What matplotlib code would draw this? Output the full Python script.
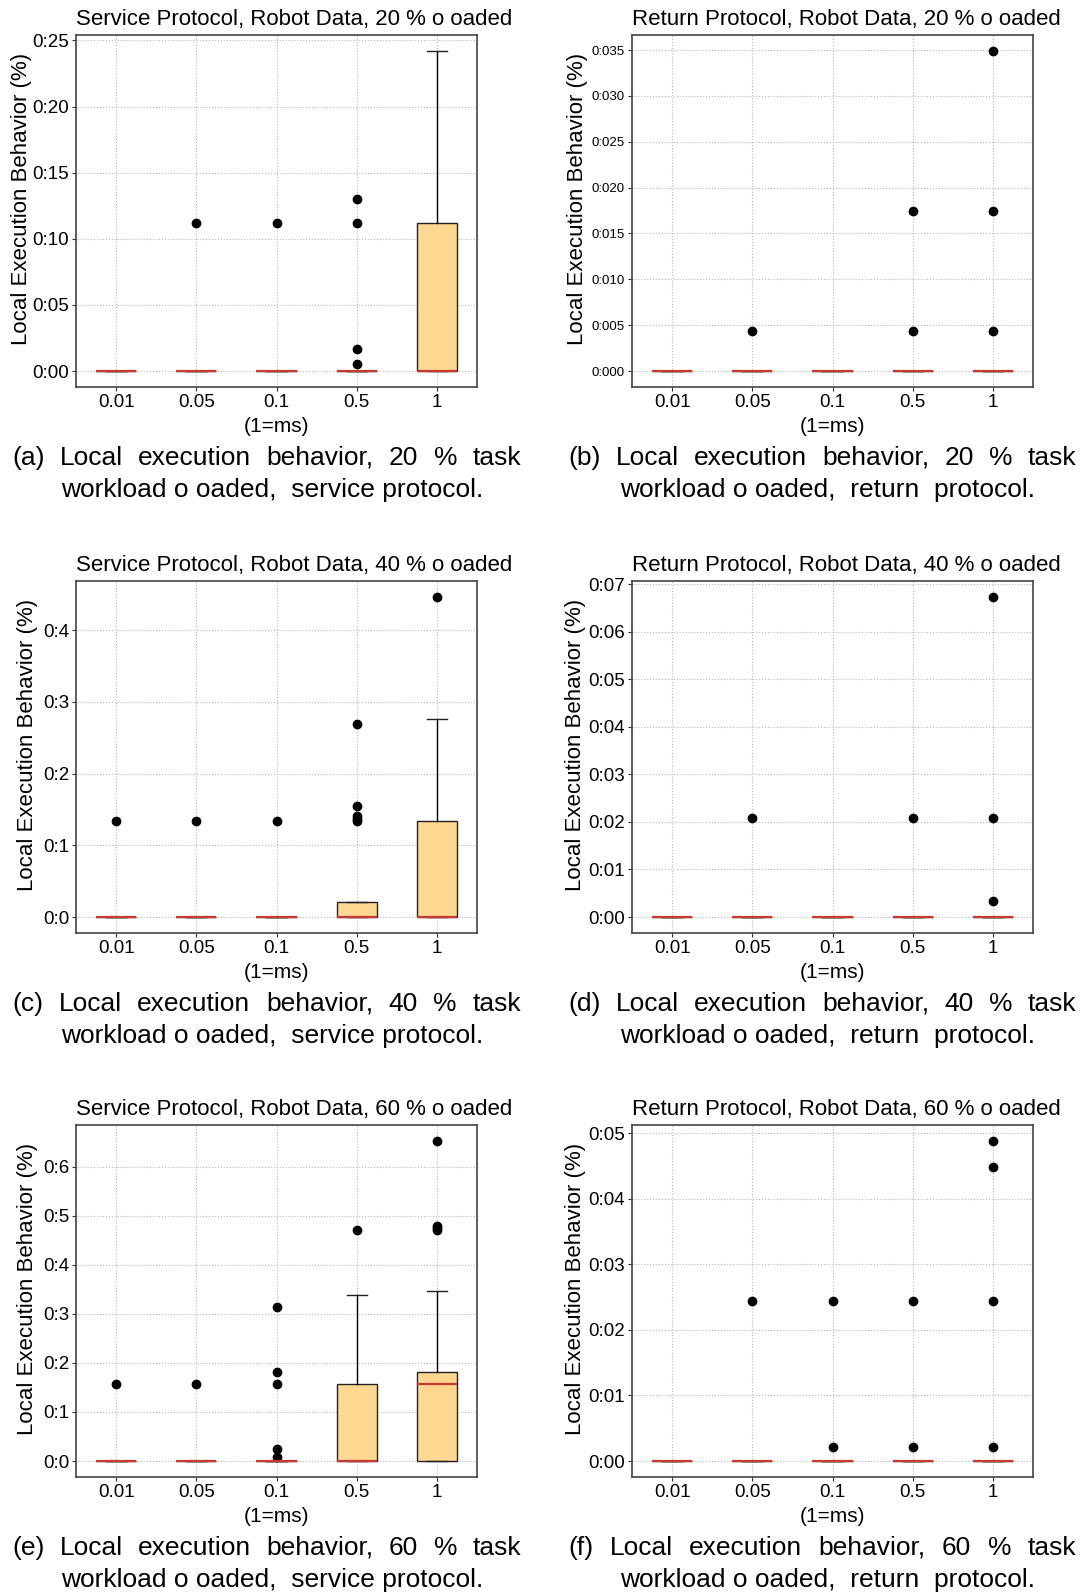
import matplotlib
matplotlib.use("Agg")
import matplotlib.pyplot as plt

plt.rcParams["font.family"] = ["Liberation Sans", "DejaVu Sans"]

FIG_W, FIG_H = 1086, 1594

intervals = ["0.01", "0.05", "0.1", "0.5", "1"]
box_low = [0, 0, 0, 0, 0]  # q1 and lower whisker are zero for every box

# Service protocol, 20 %
svc20_med = [0, 0, 0, 0, 0]
svc20_q3 = [0, 0, 0, 0, 0.112]
svc20_hi = [0, 0, 0, 0, 0.242]
svc20_fliers = [[], [0.112], [0.112], [0.130, 0.112, 0.017, 0.0055], []]

# Return protocol, 20 %
ret20_med = [0, 0, 0, 0, 0]
ret20_q3 = [0, 0, 0, 0, 0]
ret20_hi = [0, 0, 0, 0, 0]
ret20_fliers = [[], [0.0044], [], [0.0175, 0.0044], [0.0349, 0.0175, 0.0044]]

# Service protocol, 40 %
svc40_med = [0, 0, 0, 0, 0]
svc40_q3 = [0, 0, 0, 0.021, 0.134]
svc40_hi = [0, 0, 0, 0.021, 0.276]
svc40_fliers = [[0.134], [0.134], [0.134], [0.269, 0.155, 0.141, 0.137, 0.134], [0.446]]

# Return protocol, 40 %
ret40_med = [0, 0, 0, 0, 0]
ret40_q3 = [0, 0, 0, 0, 0]
ret40_hi = [0, 0, 0, 0, 0]
ret40_fliers = [[], [0.0209], [], [0.0209], [0.0673, 0.0209, 0.0033]]

# Service protocol, 60 %
svc60_med = [0, 0, 0, 0, 0.156]
svc60_q3 = [0, 0, 0, 0.156, 0.181]
svc60_hi = [0, 0, 0, 0.338, 0.3455]
svc60_fliers = [[0.156], [0.156], [0.3135, 0.181, 0.156, 0.0245, 0.0075], [0.4705],
                [0.652, 0.479, 0.474, 0.4705]]

# Return protocol, 60 %
ret60_med = [0, 0, 0, 0, 0]
ret60_q3 = [0, 0, 0, 0, 0]
ret60_hi = [0, 0, 0, 0, 0]
ret60_fliers = [[], [0.0244], [0.0244, 0.0022], [0.0244, 0.0022], [0.0488, 0.0449, 0.0244, 0.0022]]

yticks_svc20 = [0, 0.05, 0.10, 0.15, 0.20, 0.25]
ylabels_svc20 = ["0:00", "0:05", "0:10", "0:15", "0:20", "0:25"]
yticks_ret20 = [0, 0.005, 0.010, 0.015, 0.020, 0.025, 0.030, 0.035]
ylabels_ret20 = ["0:000", "0:005", "0:010", "0:015", "0:020", "0:025", "0:030", "0:035"]
yticks_svc40 = [0, 0.1, 0.2, 0.3, 0.4]
ylabels_svc40 = ["0:0", "0:1", "0:2", "0:3", "0:4"]
yticks_ret40 = [0, 0.01, 0.02, 0.03, 0.04, 0.05, 0.06, 0.07]
ylabels_ret40 = ["0:00", "0:01", "0:02", "0:03", "0:04", "0:05", "0:06", "0:07"]
yticks_svc60 = [0, 0.1, 0.2, 0.3, 0.4, 0.5, 0.6]
ylabels_svc60 = ["0:0", "0:1", "0:2", "0:3", "0:4", "0:5", "0:6"]
yticks_ret60 = [0, 0.01, 0.02, 0.03, 0.04, 0.05]
ylabels_ret60 = ["0:00", "0:01", "0:02", "0:03", "0:04", "0:05"]

titles = [
    "Service Protocol, Robot Data, 20 % o oaded",
    "Return Protocol, Robot Data, 20 % o oaded",
    "Service Protocol, Robot Data, 40 % o oaded",
    "Return Protocol, Robot Data, 40 % o oaded",
    "Service Protocol, Robot Data, 60 % o oaded",
    "Return Protocol, Robot Data, 60 % o oaded",
]
caption_first = [
    ["(a)", "Local", "execution", "behavior,", "20", "%", "task"],
    ["(b)", "Local", "execution", "behavior,", "20", "%", "task"],
    ["(c)", "Local", "execution", "behavior,", "40", "%", "task"],
    ["(d)", "Local", "execution", "behavior,", "40", "%", "task"],
    ["(e)", "Local", "execution", "behavior,", "60", "%", "task"],
    ["(f)", "Local", "execution", "behavior,", "60", "%", "task"],
]
caption_second = [
    "workload o oaded,  service protocol.",
    "workload o oaded,  return  protocol.",
    "workload o oaded,  service protocol.",
    "workload o oaded,  return  protocol.",
    "workload o oaded,  service protocol.",
    "workload o oaded,  return  protocol.",
]

panels = [
    (svc20_med, svc20_q3, svc20_hi, svc20_fliers, yticks_svc20, ylabels_svc20),
    (ret20_med, ret20_q3, ret20_hi, ret20_fliers, yticks_ret20, ylabels_ret20),
    (svc40_med, svc40_q3, svc40_hi, svc40_fliers, yticks_svc40, ylabels_svc40),
    (ret40_med, ret40_q3, ret40_hi, ret40_fliers, yticks_ret40, ylabels_ret40),
    (svc60_med, svc60_q3, svc60_hi, svc60_fliers, yticks_svc60, ylabels_svc60),
    (ret60_med, ret60_q3, ret60_hi, ret60_fliers, yticks_ret60, ylabels_ret60),
]

# layout, in pixels
col_left = [76, 632]
ax_width = 401
row_top = [35, 581, 1125]
ax_height = 352
ytick_size = [13.5, 9.5, 13.5, 13.5, 13.5, 13.5]
ylabel_x = [-0.137, -0.136, -0.121, -0.14, -0.121, -0.14]
cap_x0 = [12, 568]
cap_x1 = [521, 1076]

BOX_FILL = "#fed891"
MEDIAN_RED = "#c9392f"


def fx(px):
    return px / FIG_W


def fy(py):
    return 1 - py / FIG_H


fig = plt.figure(figsize=(FIG_W / 100, FIG_H / 100), dpi=100)
renderer = fig.canvas.get_renderer()

for i, (med, q3, hi, fliers, yticks, ylabels) in enumerate(panels):
    row, col = divmod(i, 2)
    left = col_left[col]
    top = row_top[row]
    ax = fig.add_axes([fx(left), fy(top + ax_height), ax_width / FIG_W, ax_height / FIG_H])

    stats = []
    for k in range(len(intervals)):
        stats.append({
            "med": med[k], "q1": box_low[k], "q3": q3[k],
            "whislo": box_low[k], "whishi": hi[k], "fliers": fliers[k],
        })
    ax.bxp(
        stats, positions=range(1, len(intervals) + 1), widths=0.5, patch_artist=True,
        boxprops=dict(facecolor=BOX_FILL, edgecolor="#222222", linewidth=1.0),
        medianprops=dict(color=MEDIAN_RED, linewidth=1.6, zorder=4),
        whiskerprops=dict(color="black", linewidth=1.0),
        capprops=dict(color="#222222", linewidth=1.0),
        flierprops=dict(marker="o", markerfacecolor="black", markeredgecolor="black",
                        markersize=6),
    )
    ax.set_xlim(0.5, 5.5)
    ax.set_xticks(range(1, len(intervals) + 1))
    ax.set_xticklabels(intervals, fontsize=13.5)
    ax.set_yticks(yticks)
    ax.set_yticklabels(ylabels, fontsize=ytick_size[i])
    ax.tick_params(axis="both", length=3, width=0.8, pad=2, color="#333333")
    ax.grid(True, linestyle=":", color="#b8b8b8", linewidth=0.8)
    ax.set_axisbelow(True)
    for sp in ax.spines.values():
        sp.set_color("#444444")
        sp.set_linewidth(1.2)

    ax.set_xlabel("(1=ms)", fontsize=15, labelpad=4)
    ax.set_ylabel("Local Execution Behavior (%)", fontsize=16)
    ax.yaxis.label.set_verticalalignment("center")
    ax.yaxis.set_label_coords(ylabel_x[i], 0.535)
    ax.set_title(titles[i], loc="left", fontsize=16, pad=7)

    # caption: first line justified, second line centred
    bottom = top + ax_height
    x0, x1 = cap_x0[col], cap_x1[col]
    words = [fig.text(fx(x0), fy(bottom + 78), w, fontsize=19, va="baseline")
             for w in caption_first[i]]
    widths = [t.get_window_extent(renderer=renderer).width for t in words]
    gap = (x1 - x0 - sum(widths)) / (len(words) - 1)
    x = x0
    for t, w in zip(words, widths):
        t.set_x(fx(x))
        x += w + gap
    fig.text(fx((x0 + x1) / 2 + 6), fy(bottom + 110), caption_second[i], fontsize=19,
             ha="center", va="baseline")

fig.savefig("out.png", dpi=100)
